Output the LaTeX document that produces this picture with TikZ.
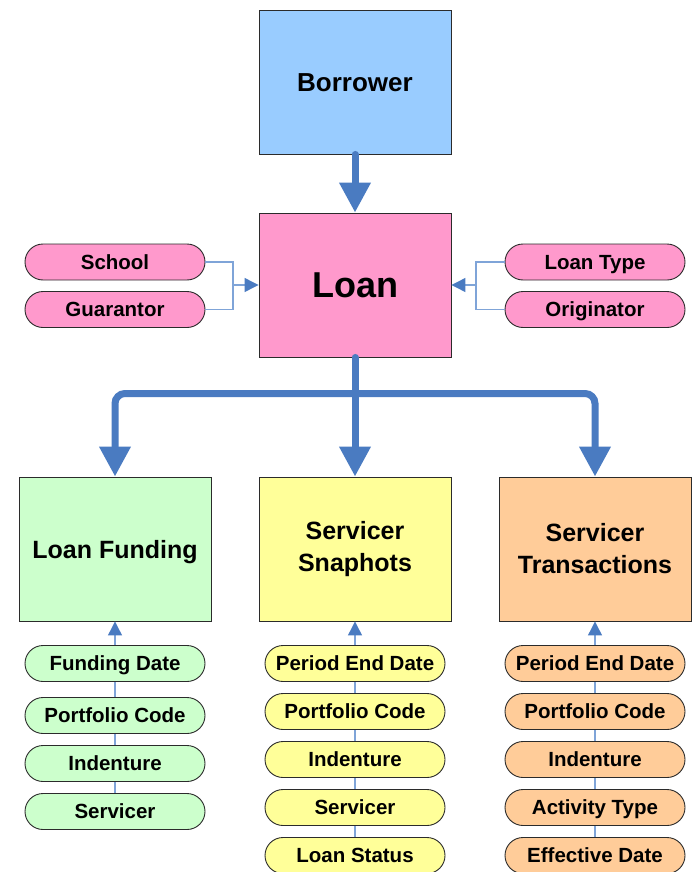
\documentclass[tikz,border=0pt]{standalone}
\usepackage{fontspec}
\setmainfont{Liberation Sans}
\usetikzlibrary{arrows.meta}
\pgfdeclarelayer{background}
\pgfsetlayers{background,main}

\definecolor{flowblue}{HTML}{4A7BC1}
\definecolor{linkblue}{HTML}{7FA4D8}
\definecolor{borrowerfill}{HTML}{99CCFF}
\definecolor{loanfill}{HTML}{FF99CC}
\definecolor{fundfill}{HTML}{CCFFCC}
\definecolor{snapfill}{HTML}{FFFF99}
\definecolor{transfill}{HTML}{FFCC99}
\definecolor{edge}{HTML}{2B2B2B}

\tikzset{
  entity/.style={draw=edge, line width=0.9pt, minimum width=192pt, minimum height=144pt,
    inner sep=0pt, align=center, text height=18pt, text depth=0pt,
    font=\bfseries\fontsize{25}{32}\selectfont},
  twoline/.style={text height={}, text depth={}},
  attr/.style={draw=edge, line width=0.9pt, rounded corners=18pt, minimum width=180pt,
    minimum height=36pt, inner sep=0pt, text height=14.7pt, text depth=0pt,
    font=\bfseries\fontsize{20.5}{24}\selectfont},
  flow/.style={draw=flowblue, line width=7pt, line cap=round,
    -{Triangle[width=30pt,length=30pt]}},
  branch/.style={draw=flowblue, line width=7pt, line cap=round, rounded corners=10pt},
  link/.style={draw=linkblue, line width=1.2pt},
  linkarrow/.style={link, -{Triangle[width=14pt,length=14pt,color=flowblue,fill=flowblue]}},
}

\begin{document}
\begin{tikzpicture}[x=1pt,y=-1pt]
\useasboundingbox (0,0) rectangle (693,872);

% main entities
\node[entity, fill=borrowerfill, text height=18.6pt, font=\bfseries\fontsize{26}{32}\selectfont] (borrower) at (355,82) {Borrower};
\node[entity, fill=loanfill, text height=25.8pt, font=\bfseries\fontsize{36}{40}\selectfont] (loan) at (355,285) {Loan};
\node[entity, fill=fundfill] (fund) at (115,549) {Loan Funding};
\node[entity, twoline, fill=snapfill] (snap) at (355,549) {Servicer\\Snaphots};
\node[entity, twoline, fill=transfill] (trans) at (595,549) {Servicer\\Transactions};

% loan attributes
\node[attr, fill=loanfill] (school) at (115,262) {School};
\node[attr, fill=loanfill] (guarantor) at (115,309.5) {Guarantor};
\node[attr, fill=loanfill] (loantype) at (595,262) {Loan Type};
\node[attr, fill=loanfill] (originator) at (595,309.5) {Originator};

% loan funding attributes
\node[attr, fill=fundfill] (f1) at (115,663.5) {Funding Date};
\node[attr, fill=fundfill] (f2) at (115,715.5) {Portfolio Code};
\node[attr, fill=fundfill] (f3) at (115,763.5) {Indenture};
\node[attr, fill=fundfill] (f4) at (115,811.5) {Servicer};

% servicer snapshot attributes
\node[attr, fill=snapfill] (s1) at (355,663.5) {Period End Date};
\node[attr, fill=snapfill] (s2) at (355,711.5) {Portfolio Code};
\node[attr, fill=snapfill] (s3) at (355,759.5) {Indenture};
\node[attr, fill=snapfill] (s4) at (355,807.5) {Servicer};
\node[attr, fill=snapfill] (s5) at (355,855.5) {Loan Status};

% servicer transaction attributes
\node[attr, fill=transfill] (t1) at (595,663.5) {Period End Date};
\node[attr, fill=transfill] (t2) at (595,711.5) {Portfolio Code};
\node[attr, fill=transfill] (t3) at (595,759.5) {Indenture};
\node[attr, fill=transfill] (t4) at (595,807.5) {Activity Type};
\node[attr, fill=transfill] (t5) at (595,855.5) {Effective Date};

% thick flow arrows
\draw[flow] (borrower.south) -- (loan.north);
\coordinate (split) at (355,393.5);
\draw[flow] (loan.south) -- (snap.north);
\draw[branch, -{Triangle[width=30pt,length=30pt]}] (split) -| (fund.north);
\draw[branch, -{Triangle[width=30pt,length=30pt]}] (split) -| (trans.north);

% side attributes joining into the loan
\coordinate (ljoin) at (233,285);
\coordinate (rjoin) at (476,285);
\draw[link] (school.east) -| (ljoin);
\draw[link] (guarantor.east) -| (ljoin);
\draw[linkarrow] (ljoin) -- (loan.west);
\draw[link] (loantype.west) -| (rjoin);
\draw[link] (originator.west) -| (rjoin);
\draw[linkarrow] (rjoin) -- (loan.east);

% attribute chains below each entity
\begin{pgfonlayer}{background}
  \draw[link] (f4) -- (f1);
  \draw[link] (s5) -- (s1);
  \draw[link] (t5) -- (t1);
\end{pgfonlayer}
\draw[linkarrow] (f1.north) -- (fund.south);
\draw[linkarrow] (s1.north) -- (snap.south);
\draw[linkarrow] (t1.north) -- (trans.south);
\end{tikzpicture}
\end{document}
